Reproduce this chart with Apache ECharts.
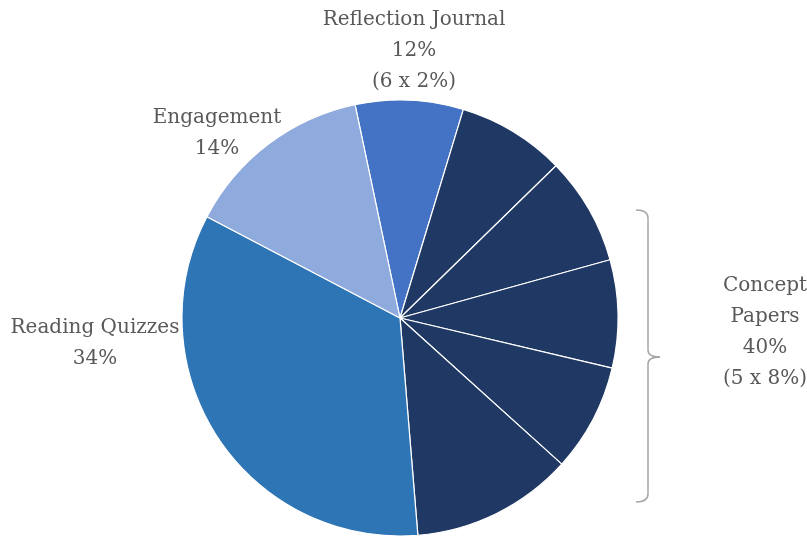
<!DOCTYPE html>
<html><head><meta charset="utf-8">
<script src="https://cdn.jsdelivr.net/npm/echarts@6/dist/echarts.min.js"></script>
<style>html,body{margin:0;padding:0;background:#fff}#c{width:807px;height:537px}</style>
</head><body><div id="c"></div>
<script>
const sliceNames = ['Reflection Journal','Concept Paper 1','Concept Paper 2','Concept Paper 3','Concept Paper 4','Concept Paper 5','Reading Quizzes','Engagement'];
const sliceValues = [8, 8, 8, 8, 8, 12, 34, 14];
const sliceColors = ['#4472C4','#203864','#203864','#203864','#203864','#203864','#2E75B6','#8FAADC'];
const labelTexts = [
  'Reflection Journal\n12%\n(6 x 2%)',
  'Engagement\n14%',
  'Reading Quizzes\n34%',
  'Concept\nPapers\n40%\n(5 x 8%)'
];
const labelPos = [[414, 51], [217, 133], [95, 343], [765, 332]];

const chart = echarts.init(document.getElementById('c'));
const font = '"DejaVu Serif", serif';
const graphics = labelTexts.map((t, i) => ({
  type: 'text', x: labelPos[i][0], y: labelPos[i][1],
  style: { text: t, font: '20px ' + font, fill: '#595959', align: 'center', verticalAlign: 'middle', lineHeight: 31 }
}));
const bracketStyle = { stroke: '#A6A6A6', lineWidth: 1.5, fill: null };
graphics.push(
  { type: 'bezierCurve', shape: { x1: 636, y1: 210, x2: 648, y2: 218, cpx1: 648, cpy1: 210 }, style: bracketStyle },
  { type: 'line', shape: { x1: 648, y1: 218, x2: 648, y2: 350 }, style: bracketStyle },
  { type: 'bezierCurve', shape: { x1: 648, y1: 350, x2: 660, y2: 357, cpx1: 648, cpy1: 357 }, style: bracketStyle },
  { type: 'bezierCurve', shape: { x1: 660, y1: 357, x2: 648, y2: 364, cpx1: 648, cpy1: 357 }, style: bracketStyle },
  { type: 'line', shape: { x1: 648, y1: 364, x2: 648, y2: 494 }, style: bracketStyle },
  { type: 'bezierCurve', shape: { x1: 648, y1: 494, x2: 636, y2: 502, cpx1: 648, cpy1: 502 }, style: bracketStyle }
);
chart.setOption({
  animation: false,
  graphic: graphics,
  series: [{
    type: 'pie',
    center: [400, 318],
    radius: 218,
    startAngle: 101.9,
    clockwise: true,
    label: { show: false },
    labelLine: { show: false },
    itemStyle: { borderColor: '#fff', borderWidth: 1.2 },
    emphasis: { disabled: true },
    data: sliceNames.map((n, i) => ({ name: n, value: sliceValues[i], itemStyle: { color: sliceColors[i] } }))
  }]
});
</script></body></html>
